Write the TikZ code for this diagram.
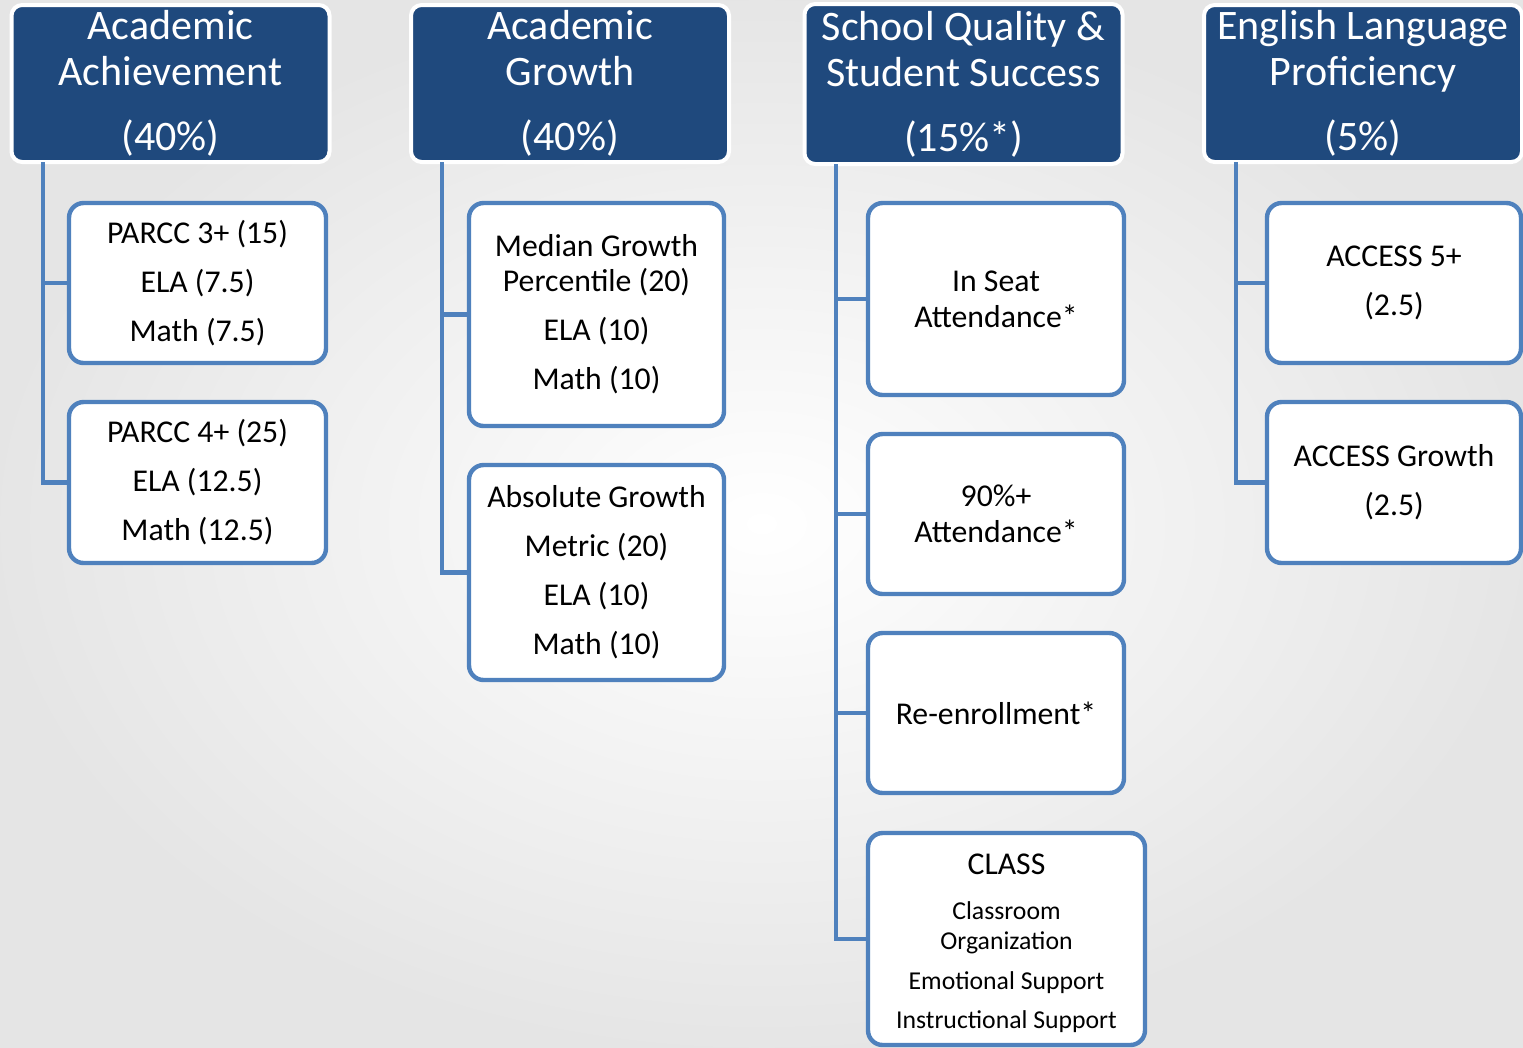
\documentclass[tikz,border=0pt]{standalone}
\usepackage{fontspec}
\setmainfont{Carlito}
\newdimen\upx \upx=0.75pt
\definecolor{hdrblue}{RGB}{31,73,125}
\definecolor{lineblue}{RGB}{79,129,189}
\begin{document}
\begin{tikzpicture}[x=0.75pt,y=-0.75pt,
  hdr/.style={draw=white,line width=3pt,fill=hdrblue,rounded corners=8pt,inner sep=0pt,
    minimum width=318\upx,minimum height=157\upx,text=white,align=center,
    font=\fontsize{31.5}{34.5}\selectfont},
  sub/.style={draw=lineblue,line width=3.3pt,fill=white,rounded corners=11pt,inner sep=0pt,
    align=center,font=\fontsize{23.8}{36.75}\selectfont},
  conn/.style={draw=lineblue,line width=3.6pt}]
\useasboundingbox (0,0) rectangle (1523,1047);
\shade[inner color=white,outer color=black!10] (0,0) rectangle (1523,1047);
% headers
\node[hdr] (h1) at (170.5,83.5) {Academic\\Achievement\\[14.25pt](40\%)};
\node[hdr] (h2) at (570,83.5) {Academic\\Growth\\[14.25pt](40\%)};
\node[hdr,minimum height=160\upx] (h3) at (963.5,84) {School Quality \&\\Student Success\\[14.25pt](15\%*)};
\node[hdr] (h4) at (1363,83.5) {English Language\\Proficiency\\[14.25pt](5\%)};
% column 1
\node[sub,minimum width=257\upx,minimum height=160\upx] (a1) at (197.5,283) {PARCC 3+ (15)\\ELA (7.5)\\Math (7.5)};
\node[sub,minimum width=257\upx,minimum height=161\upx] (a2) at (197.5,482.5) {PARCC 4+ (25)\\ELA (12.5)\\Math (12.5)};
% column 2
\node[sub,minimum width=255\upx,minimum height=223\upx,font=\fontsize{23.8}{26.25}\selectfont] (g1) at (596.5,314.5) {Median Growth\\Percentile (20)\\[10.5pt]ELA (10)\\[10.5pt]Math (10)};
\node[sub,minimum width=255\upx,minimum height=215\upx] (g2) at (596.5,572.5) {Absolute Growth\\Metric (20)\\ELA (10)\\Math (10)};
% column 3
\node[sub,minimum width=256\upx,minimum height=192\upx,font=\fontsize{23.8}{27}\selectfont] (q1) at (996,299) {In Seat\\Attendance*};
\node[sub,minimum width=256\upx,minimum height=160\upx,font=\fontsize{23.8}{27}\selectfont] (q2) at (996,514) {90\%+\\Attendance*};
\node[sub,minimum width=256\upx,minimum height=160\upx] (q3) at (996,713) {Re-enrollment*};
\node[sub,minimum width=277\upx,minimum height=212\upx,font=\fontsize{19.3}{22.5}\selectfont] (q4) at (1006.5,939)
  {\rule{0pt}{22pt}{\fontsize{23.8}{25}\selectfont CLASS}\\[11.25pt]Classroom\\Organization\\[7.5pt]Emotional Support\\[7.25pt]Instructional Support};
% column 4
\node[sub,minimum width=254\upx,minimum height=160\upx] (e1) at (1394,283) {ACCESS 5+\\(2.5)};
\node[sub,minimum width=254\upx,minimum height=161\upx] (e2) at (1394,482.5) {ACCESS Growth\\(2.5)};
% spines
\coordinate (s1) at (43,162);
\coordinate (s2) at (442,162);
\coordinate (s3) at (836,164);
\coordinate (s4) at (1236,162);
\draw[conn] (s1) |- (a2.west);
\draw[conn] (s1 |- a1.west) -- (a1.west);
\draw[conn] (s2) |- (g2.west);
\draw[conn] (s2 |- g1.west) -- (g1.west);
\draw[conn] (s3) |- (q4.west);
\draw[conn] (s3 |- q1.west) -- (q1.west);
\draw[conn] (s3 |- q2.west) -- (q2.west);
\draw[conn] (s3 |- q3.west) -- (q3.west);
\draw[conn] (s4) |- (e2.west);
\draw[conn] (s4 |- e1.west) -- (e1.west);
\end{tikzpicture}
\end{document}
